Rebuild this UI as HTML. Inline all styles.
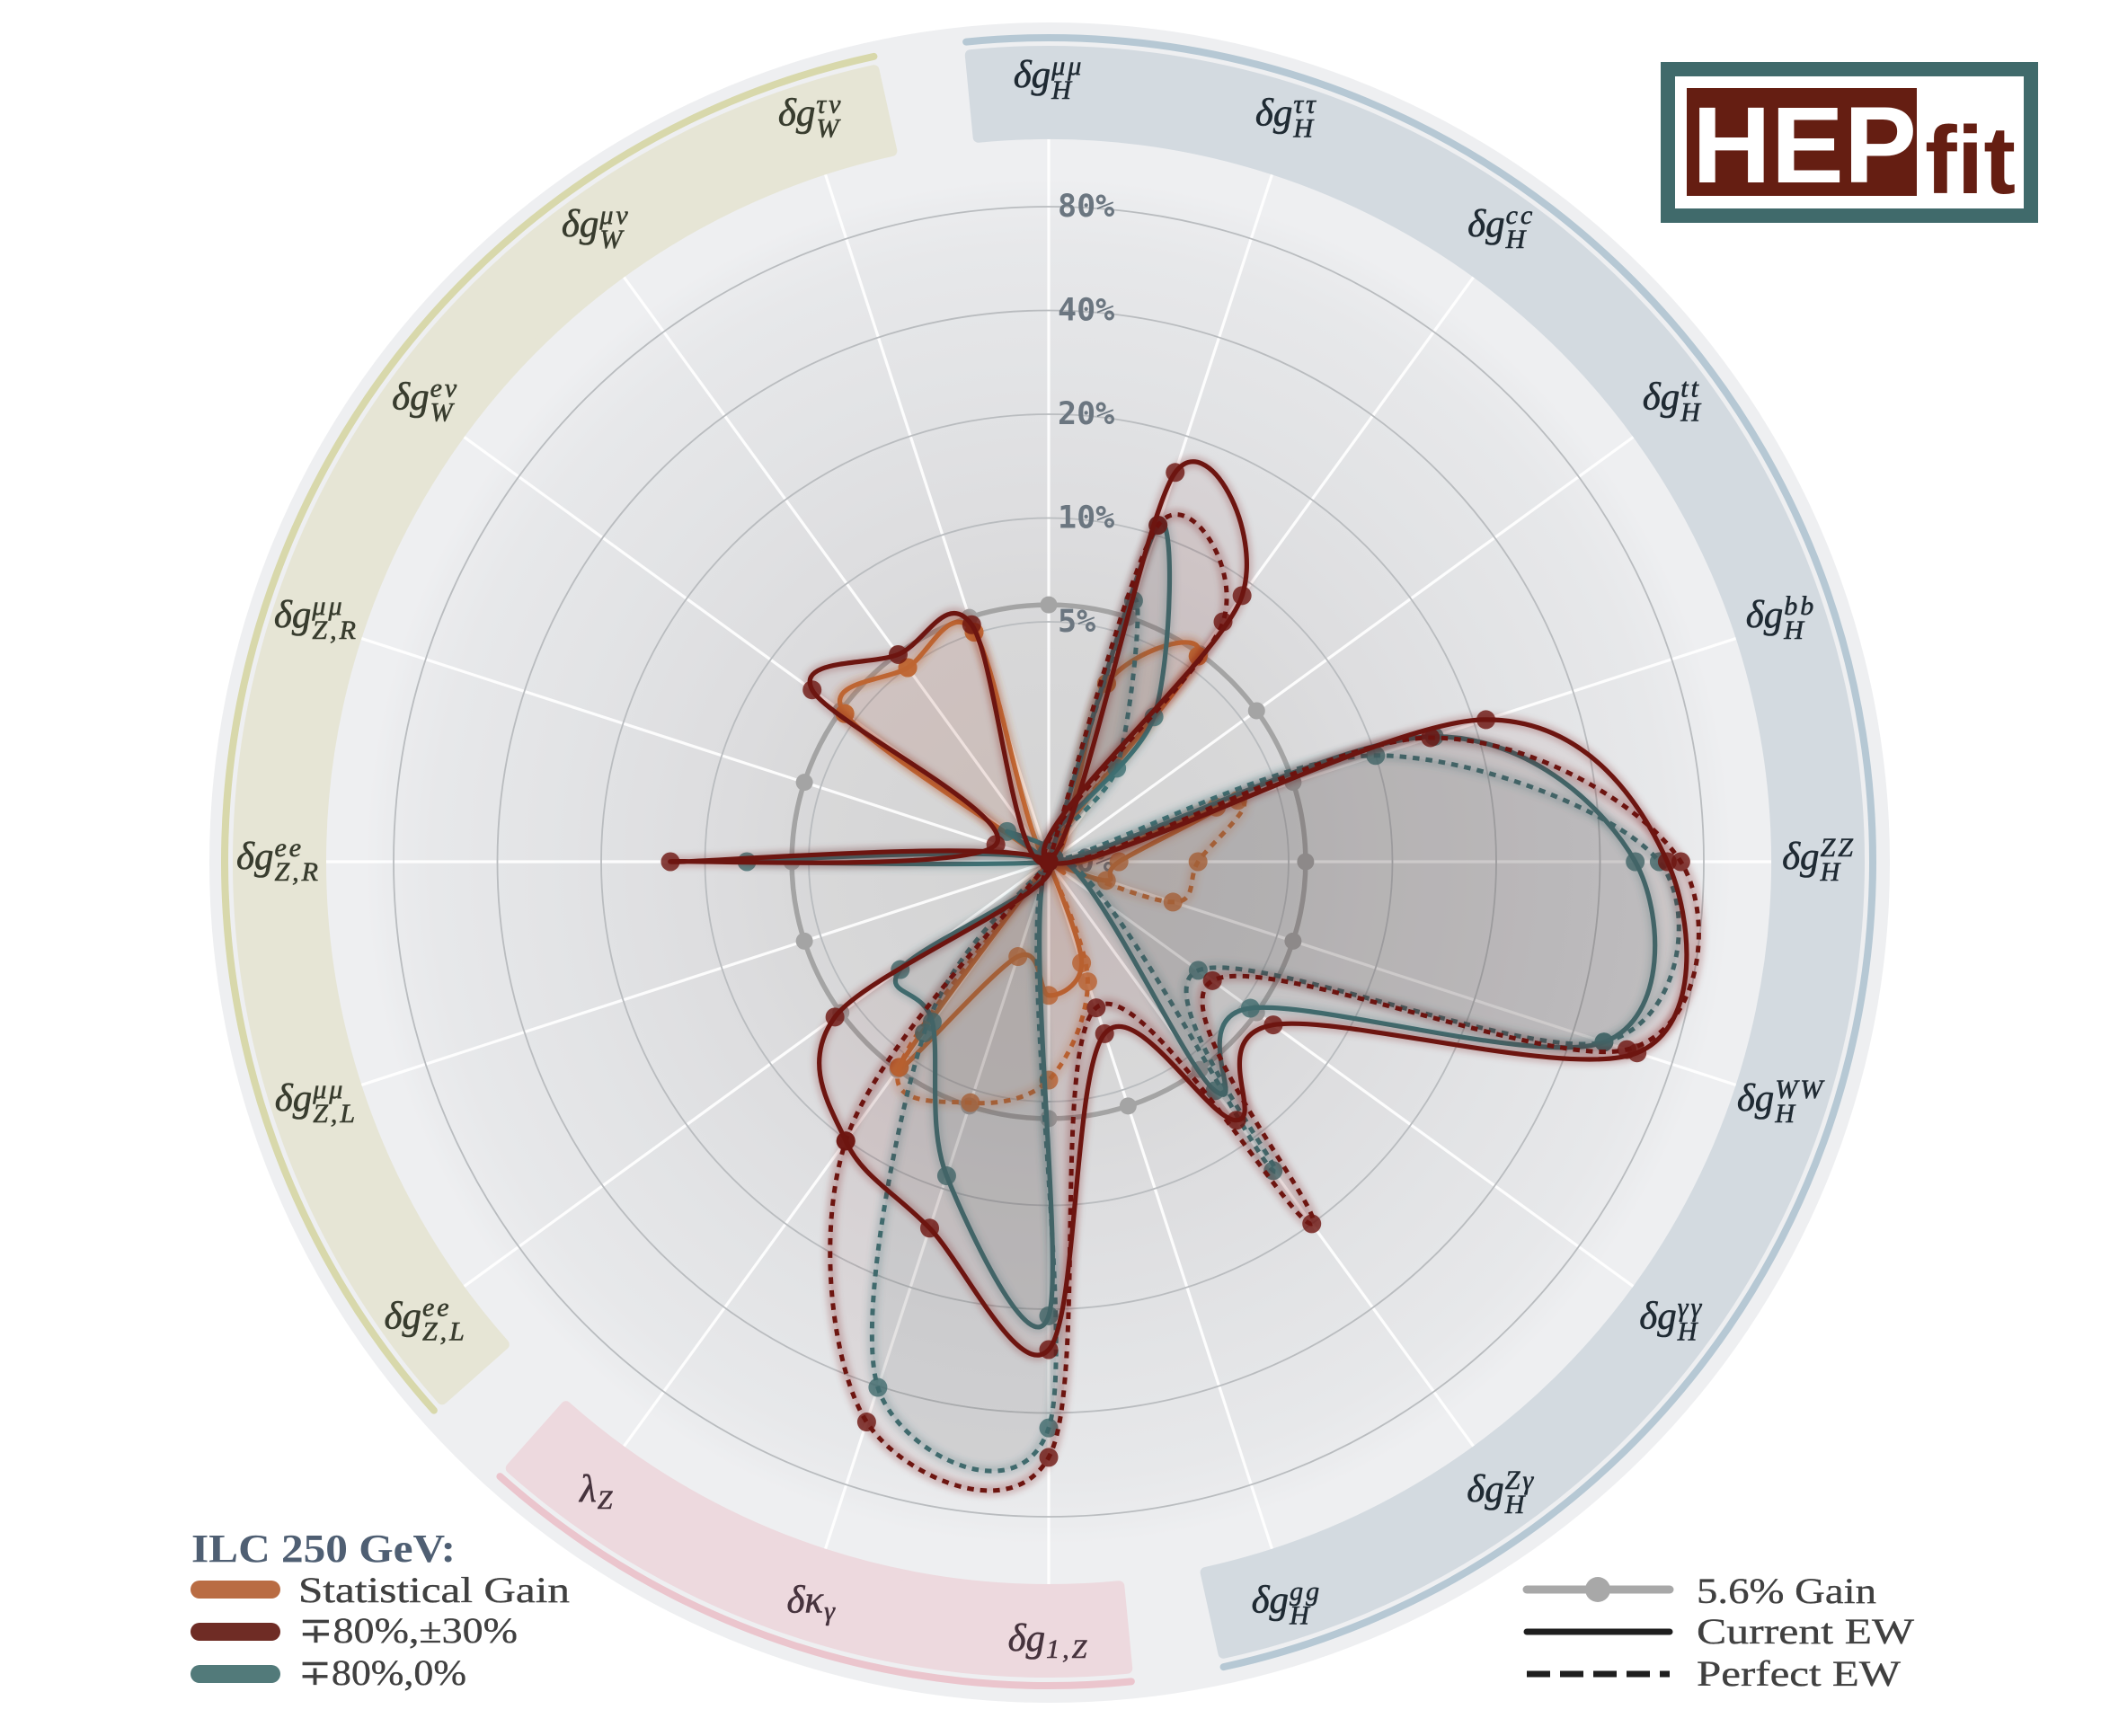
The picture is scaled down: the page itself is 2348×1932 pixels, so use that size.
<!DOCTYPE html>
<html lang="en">
<head>
<meta charset="utf-8">
<title>HEPfit ILC 250 GeV radar chart</title>
<style>
html,body{margin:0;padding:0;background:#fff;}
svg{display:block;}
.serif{font-family:"Liberation Serif","DejaVu Serif",serif;}
.leg{font-family:"Liberation Serif","DejaVu Serif",serif;font-size:40px;fill:#404040;stroke:#404040;stroke-width:0.35;}
</style>
</head>
<body>
<svg id="chart" xmlns="http://www.w3.org/2000/svg" width="2348" height="1932" viewBox="0 0 2348 1932">
  <defs>
    <radialGradient id="discGrad" gradientUnits="userSpaceOnUse" cx="1167" cy="959" r="760">
      <stop offset="0" stop-color="#d3d3d3"/>
      <stop offset="0.35" stop-color="#d8d8d9"/>
      <stop offset="0.5" stop-color="#dddddf"/>
      <stop offset="0.7" stop-color="#e2e3e5"/>
      <stop offset="0.9" stop-color="#e7e8ea"/>
      <stop offset="0.97" stop-color="#ebecee"/>
      <stop offset="1" stop-color="#eeeff1"/>
    </radialGradient>
    <filter id="halo" filterUnits="userSpaceOnUse" x="0" y="0" width="2348" height="1932">
      <feGaussianBlur stdDeviation="3.5"/>
    </filter>
  </defs>
  <circle cx="1168" cy="960" r="935" fill="#eeeff1"/>
  <circle cx="1167" cy="959" r="760" fill="url(#discGrad)"/>
  <g id="bands"></g>
  <g id="spokes"></g>
  <g id="rings"></g>
  <g id="gain-ring"></g>
  <g id="ticks"></g>
  <text x="1197" y="970" font-family="'DejaVu Sans Mono',monospace" font-weight="700" font-size="35" fill="#6b7680">0%</text>
  <g id="series"></g>
  <g id="labels"></g>

  <g>
    <text class="serif" x="213" y="1738" font-size="44" font-weight="700" fill="#4f5f73" textLength="294" lengthAdjust="spacingAndGlyphs">ILC 250 GeV:</text>
    <line x1="222" y1="1769" x2="302" y2="1769" stroke="#b96c43" stroke-width="20" stroke-linecap="round"/>
    <line x1="222" y1="1816" x2="302" y2="1816" stroke="#6f2c25" stroke-width="20" stroke-linecap="round"/>
    <line x1="222" y1="1863" x2="302" y2="1863" stroke="#527a7a" stroke-width="20" stroke-linecap="round"/>
    <text class="leg" x="332" y="1783" textLength="302" lengthAdjust="spacingAndGlyphs">Statistical Gain</text>
    <text class="leg" x="332" y="1828" textLength="244" lengthAdjust="spacingAndGlyphs">∓80%,±30%</text>
    <text class="leg" x="332" y="1875" textLength="187" lengthAdjust="spacingAndGlyphs">∓80%,0%</text>
  </g>

  <g>
    <line x1="1699" y1="1769" x2="1858" y2="1769" stroke="#a8a8a8" stroke-width="9" stroke-linecap="round"/>
    <circle cx="1778" cy="1769" r="14" fill="#a8a8a8"/>
    <line x1="1699" y1="1816" x2="1858" y2="1816" stroke="#1e1e1e" stroke-width="7" stroke-linecap="round"/>
    <line x1="1699" y1="1863" x2="1858" y2="1863" stroke="#1e1e1e" stroke-width="7" stroke-dasharray="26 11"/>
    <text class="leg" x="1888" y="1784" textLength="200" lengthAdjust="spacingAndGlyphs">5.6% Gain</text>
    <text class="leg" x="1888" y="1829" textLength="242" lengthAdjust="spacingAndGlyphs">Current EW</text>
    <text class="leg" x="1888" y="1876" textLength="227" lengthAdjust="spacingAndGlyphs">Perfect EW</text>
  </g>

  <g>
    <rect x="1856" y="77" width="404" height="163" fill="#fff" stroke="#406a6b" stroke-width="16"/>
    <rect x="1877" y="98" width="256" height="120" fill="#651e12"/>
    <text x="1883" y="203" font-family="'Liberation Sans',sans-serif" font-weight="700" font-size="121" fill="#fff" textLength="250" lengthAdjust="spacingAndGlyphs">HEP</text>
    <text x="2142" y="215" font-family="'Liberation Sans',sans-serif" font-weight="700" font-size="107" fill="#651e12" textLength="101" lengthAdjust="spacingAndGlyphs">fit</text>
  </g>
</svg>
<script>
// ---- chart data (percent sensitivity per axis, clockwise from the top) ----
const axisMain = ['δg','δg','δg','δg','δg','δg','δg','δg','δg','δg','δg','δκ','λ','δg','δg','δg','δg','δg','δg','δg'];
const axisSup  = ['μμ','ττ','cc','tt','bb','ZZ','WW','γγ','Zγ','gg','','','','ee','μμ','ee','μμ','eν','μν','τν'];
const axisSub  = ['H','H','H','H','H','H','H','H','H','H','1,Z','γ','Z','Z,L','Z,L','Z,R','Z,R','W','W','W'];
const tickValues = [5, 10, 20, 40, 80];
const tickLabels = ['5%', '10%', '20%', '40%', '80%'];
const gainValue = 5.6;

const orangePerfect = [1, 3.52, 5.5, 1, 3.8, 2.73, 2.41, 1, 1, 2.34, 4.33, 5.47, 5.5, 1, 1, 1, 1, 5.42, 5, 5.05];
const orangeCurrent = [1, 3.52, 5.5, 1, 3.27, 1.61, 1.51, 1, 1, 2.05, 2.46, 1.96, 5.5, 1, 1, 1, 1, 5.42, 5, 5.05];
const tealPerfect   = [1, 6.3, 2.18, 1, 10, 59.4, 49.7, 3.46, 12.9, 1, 44.2, 40.4, 4.14, 1, 1, 1, 1, 1, 1, 1];
const tealCurrent   = [1, 10.7, 3.33, 1, 15.1, 50.6, 49.7, 5.32, 6.67, 1, 20.9, 9.14, 3.78, 3.43, 1, 7.56, 1, 1.42, 1, 1];
const maroonPerfect = [1, 10.7, 7.3, 1, 14.7, 68.6, 58.4, 3.89, 20, 2.81, 53.8, 51.5, 10.1, 1, 1, 1, 1, 1, 1, 1];
const maroonCurrent = [1, 15.5, 9.06, 1, 21.7, 62.7, 62.7, 6.43, 8.51, 3.37, 26.2, 13.2, 10.1, 5.88, 1, 12.6, 1.46, 7.1, 5.57, 5.32];

// ---- axis functions ----
const SVGNS = 'http://www.w3.org/2000/svg';
const cx = 1167, cy = 959;
function radius(p) { return Math.max(0, 267 + 115.5 * Math.log2(p / 5)); }
function axisAngle(i) { return i * 18 * Math.PI / 180; }
function polar(deg, r) {
  const t = deg * Math.PI / 180;
  return [cx + r * Math.sin(t), cy - r * Math.cos(t)];
}
function pointAt(i, p) {
  const r = radius(p), t = axisAngle(i);
  return [cx + r * Math.sin(t), cy - r * Math.cos(t)];
}
function make(tag, attrs, parent) {
  const e = document.createElementNS(SVGNS, tag);
  for (const k in attrs) e.setAttribute(k, attrs[k]);
  parent.appendChild(e);
  return e;
}
function smoothPath(pts) {
  const n = pts.length;
  let d = 'M' + pts[0][0].toFixed(1) + ' ' + pts[0][1].toFixed(1);
  for (let i = 0; i < n; i++) {
    const p0 = pts[(i - 1 + n) % n], p1 = pts[i], p2 = pts[(i + 1) % n], p3 = pts[(i + 2) % n];
    const c1 = [p1[0] + (p2[0] - p0[0]) / 6, p1[1] + (p2[1] - p0[1]) / 6];
    const c2 = [p2[0] - (p3[0] - p1[0]) / 6, p2[1] - (p3[1] - p1[1]) / 6];
    d += 'C' + c1[0].toFixed(1) + ' ' + c1[1].toFixed(1) + ' ' + c2[0].toFixed(1) + ' ' + c2[1].toFixed(1) + ' ' + p2[0].toFixed(1) + ' ' + p2[1].toFixed(1);
  }
  return d + 'Z';
}

// ---- category bands ----
const bandNames = ['higgs', 'tgc', 'ew'];
const bandStart = [-6, 174, 228];
const bandEnd = [168, 222, 348];
const bandFill = ['#d3dae0', '#edd9de', '#e6e5d5'];
const bandLine = ['#b6c8d4', '#ebc5cd', '#d8d8ab'];
const labelInk = ['#1f2a33', '#46333d', '#383c2e'];
const bandsG = document.getElementById('bands');
bandNames.forEach(function (name, b) {
  const inset = 6, a0 = bandStart[b] + 0.45, a1 = bandEnd[b] - 0.45, rI = 804 + inset, rO = 908 - inset;
  const p1 = polar(a0, rO), p2 = polar(a1, rO), p3 = polar(a1, rI), p4 = polar(a0, rI);
  const large = (a1 - a0) > 180 ? 1 : 0;
  const d = 'M' + p1 + 'A' + rO + ' ' + rO + ' 0 ' + large + ' 1 ' + p2 + 'L' + p3 + 'A' + rI + ' ' + rI + ' 0 ' + large + ' 0 ' + p4 + 'Z';
  const band = make('path', { d: d, fill: bandFill[b], stroke: bandFill[b], 'stroke-width': 2 * inset, 'stroke-linejoin': 'round' }, bandsG);
  
  
  const q1 = polar(bandStart[b] + 0.25, 917), q2 = polar(bandEnd[b] - 0.25, 917);
  const arc = make('path', { d: 'M' + q1 + 'A917 917 0 ' + large + ' 1 ' + q2, fill: 'none', stroke: bandLine[b], 'stroke-width': 8, 'stroke-linecap': 'round' }, bandsG);
  
  
});

// ---- spokes ----
const spokesG = document.getElementById('spokes');
axisSup.forEach(function (_, i) {
  const end = polar(i * 18, 804);
  const s = make('line', { x1: cx, y1: cy, x2: end[0], y2: end[1], stroke: '#ffffff', 'stroke-width': 3.2, 'stroke-opacity': 0.9 }, spokesG);
  
  
});

// ---- rings ----
const ringsG = document.getElementById('rings');
tickValues.forEach(function (v) {
  const c = make('circle', { cx: cx, cy: cy, r: radius(v), fill: 'none', stroke: '#b9bcbf', 'stroke-width': 1.8 }, ringsG);
  
  
});

// ---- 5.6% gain ring ----
const gainG = document.getElementById('gain-ring');
const gainCircle = make('circle', { cx: cx, cy: cy, r: radius(gainValue), fill: 'none', stroke: '#a4a4a4', 'stroke-width': 5.5 }, gainG);


axisSup.forEach(function (_, i) {
  const p = pointAt(i, gainValue);
  const m = make('circle', { cx: p[0], cy: p[1], r: 9.5, fill: '#a4a4a4' }, gainG);
  
  
});

// ---- tick labels ----
const ticksG = document.getElementById('ticks');
tickValues.forEach(function (v, i) {
  const t = make('text', { x: cx + 10, y: cy - radius(v) + 11, 'font-family': "'DejaVu Sans Mono',monospace", 'font-weight': 700, 'font-size': 35, fill: '#6b7680' }, ticksG);
  t.textContent = tickLabels[i];
  
  
});

// ---- series ----
const seriesValues = [orangePerfect, orangeCurrent, tealPerfect, tealCurrent, maroonPerfect, maroonCurrent];
const seriesNames = ['statistical-perfect', 'statistical-current', 'polarised-0-perfect', 'polarised-0-current', 'polarised-30-perfect', 'polarised-30-current'];
const seriesColor = ['#c46b35', '#c46b35', '#3e7073', '#3e7073', '#6d1510', '#6d1510'];
const seriesAlpha = [0.04, 0.04, 0.09, 0.09, 0.06, 0.06];
const seriesDash = [true, false, true, false, true, false];
const seriesG = document.getElementById('series');
seriesValues.forEach(function (vals, s) {
  const pts = vals.map(function (v, i) { return pointAt(i, v); });
  const d = smoothPath(pts);
  const g = make('g', {}, seriesG);
  
  
  const fill = make('path', { d: d, fill: seriesColor[s], 'fill-opacity': seriesAlpha[s], stroke: 'none' }, g);
  
  
  const halo = make('path', { d: d, fill: 'none', stroke: seriesColor[s], 'stroke-opacity': 0.2, 'stroke-width': 13, filter: 'url(#halo)' }, g);
  
  
  const attrs = { d: d, fill: 'none', stroke: seriesColor[s], 'stroke-width': seriesDash[s] ? 5 : 5.2, 'stroke-linejoin': 'round' };
  if (seriesDash[s]) attrs['stroke-dasharray'] = '7.5 7';
  const line = make('path', attrs, g);
  
  
  pts.forEach(function (p) {
    const m = make('circle', { cx: p[0], cy: p[1], r: 10.5, fill: seriesColor[s], 'fill-opacity': 0.8 }, g);
    
    
  });
});

// ---- axis labels ----
const labelsG = document.getElementById('labels');
const labelRadiusX = 857, labelRadiusY = 870;
axisMain.forEach(function (main, i) {
  const t = axisAngle(i);
  const px = cx + labelRadiusX * Math.sin(t), py = cy - labelRadiusY * Math.cos(t) - 2;
  const band = i < 10 ? 0 : (i < 13 ? 1 : 2);
  const g = make('g', { 'font-family': "'Liberation Serif','DejaVu Serif',serif", 'font-style': 'italic', fill: labelInk[band], stroke: labelInk[band], 'stroke-width': 0.6 }, labelsG);
  
  
  const base = make('text', { x: 0, y: 0, 'font-size': 43 }, g);
  base.textContent = main;
  const w0 = base.getComputedTextLength() + 1;
  const sup = axisSup[i], sub = axisSub[i];
  let supEl = null, subEl = null, w1 = 0, w2 = 0;
  if (sup) {
    supEl = make('text', { x: 0, y: 0, 'font-size': 30, 'letter-spacing': 3 }, g);
    supEl.textContent = sup;
    w1 = supEl.getComputedTextLength();
  }
  if (sub) {
    subEl = make('text', { x: 0, y: 0, 'font-size': 30, 'letter-spacing': sub.length > 1 ? 3 : 0 }, g);
    subEl.textContent = sub;
    w2 = subEl.getComputedTextLength();
  }
  const total = w0 + Math.max(w1, w2);
  const x0 = px - total / 2, yb = py + 10;
  base.setAttribute('x', x0);
  base.setAttribute('y', yb);
  if (supEl) { supEl.setAttribute('x', x0 + w0); supEl.setAttribute('y', yb - 14); }
  if (subEl) { subEl.setAttribute('x', x0 + w0); subEl.setAttribute('y', yb + (sup ? 13 : 8)); }
});
</script>
</body>
</html>
